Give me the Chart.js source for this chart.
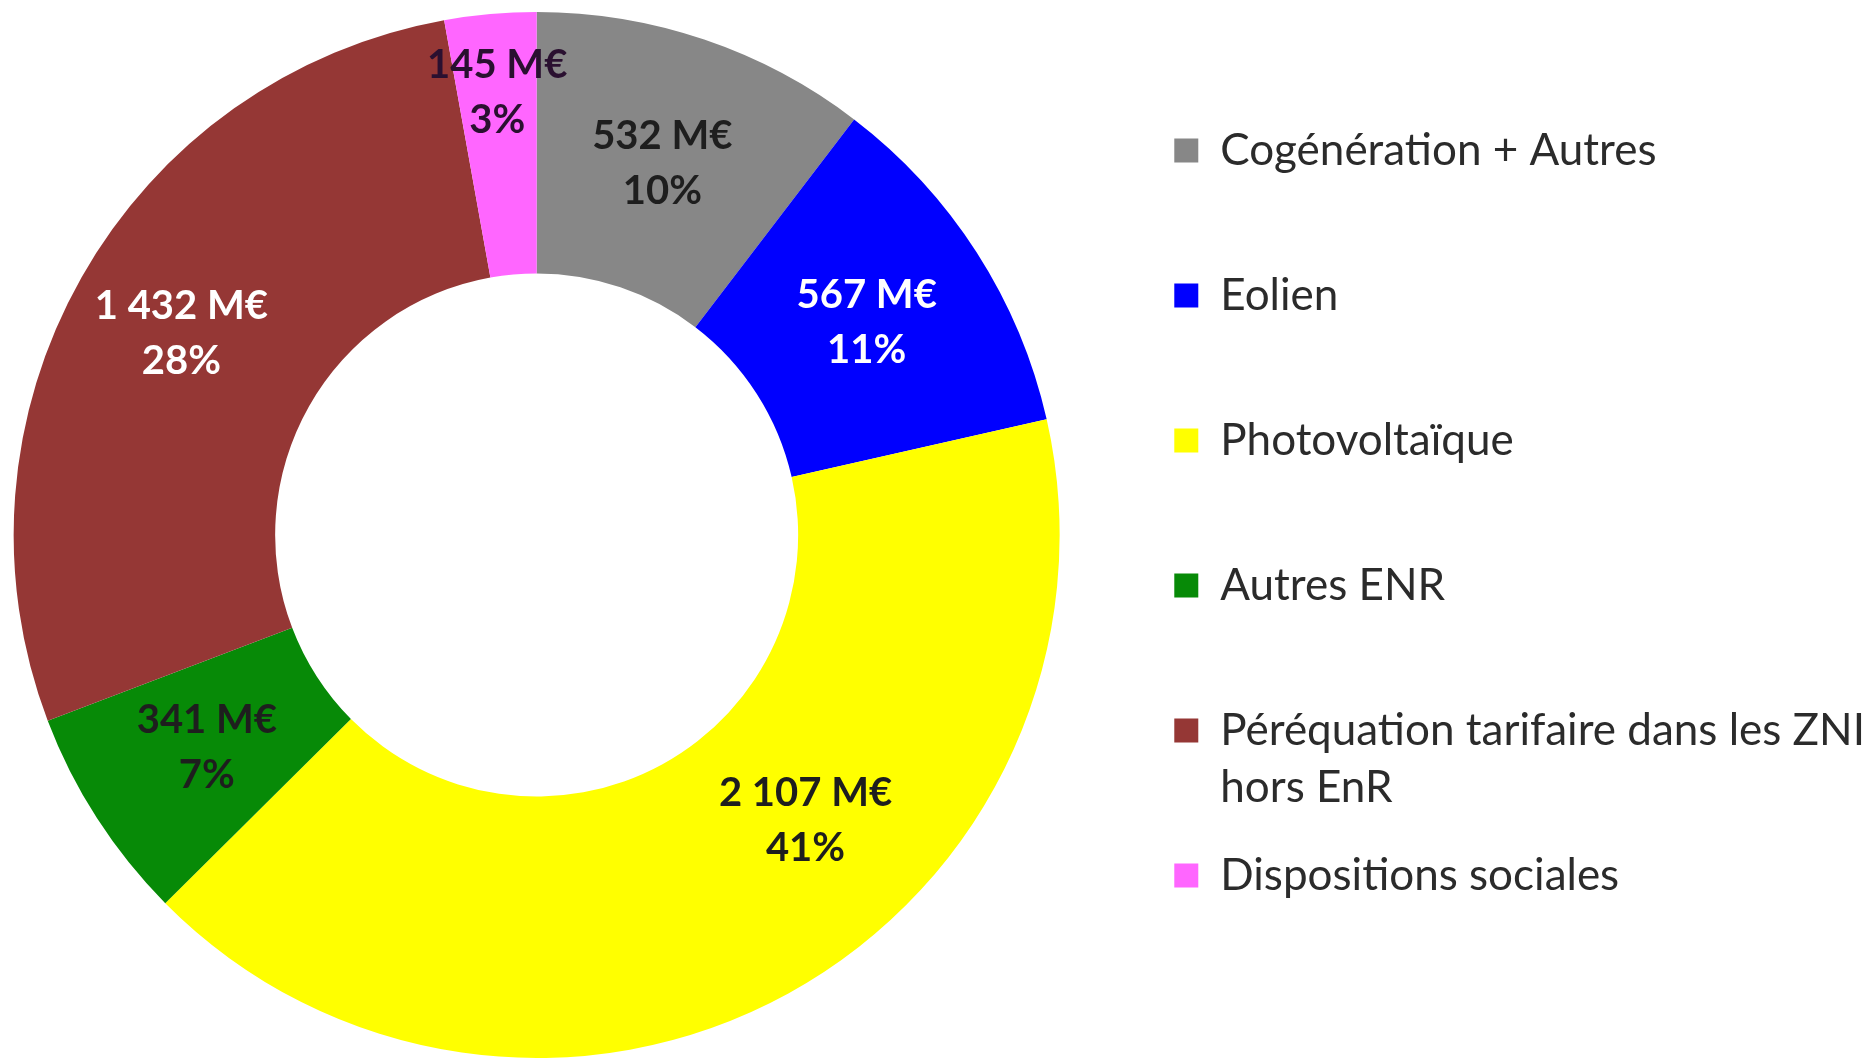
<!DOCTYPE html>
<html>
<head>
<meta charset="utf-8">
<script src="https://cdn.jsdelivr.net/npm/chart.js@4.4.1/dist/chart.umd.min.js"></script>
<style>
  html, body { margin: 0; padding: 0; background: #fff; }
  #wrap { width: 1875px; height: 1060px; position: relative; }
</style>
</head>
<body>
<div id="wrap"><canvas id="cspeChart"></canvas></div>
<script>
// Répartition des charges (M€)
const categories = ['Cogénération + Autres', 'Eolien', 'Photovoltaïque', 'Autres ENR', 'Péréquation tarifaire dans les ZNI', 'Dispositions sociales'];
const categoryExtraLines = ['', '', '', '', 'hors EnR', ''];
const amounts = [532, 567, 2107, 341, 1432, 145];
const sliceColors = ['#878787', '#0000ff', '#ffff00', '#078a07', '#953735', '#ff66ff'];
const labelColors = ['#1e1e1e', '#ffffff', '#1e1e1e', '#1e1e1e', '#ffffff', '#2a1030'];

function formatAmount(v) {
    return String(v).replace(/\B(?=(\d{3})+(?!\d))/g, ' ') + ' M€';
}

// valeurs + pourcentages dans chaque part
const sliceLabels = {
    id: 'sliceLabels',
    afterDatasetsDraw(chart, args, opts) {
        const ctx = chart.ctx;
        const meta = chart.getDatasetMeta(0);
        const values = chart.data.datasets[0].data;
        const total = values.reduce((a, b) => a + b, 0);
        ctx.save();
        ctx.font = opts.font;
        ctx.textAlign = 'center';
        ctx.textBaseline = 'middle';
        meta.data.forEach((arc, i) => {
            const p = arc.getProps(['x', 'y', 'startAngle', 'endAngle', 'innerRadius', 'outerRadius'], true);
            const tw = (opts.tweaks && opts.tweaks[i]) || {};
            const ang = (p.startAngle + p.endAngle) / 2 + (tw.angle || 0) * Math.PI / 180;
            const r = (p.innerRadius + p.outerRadius) / 2 + (tw.radius || 0);
            const cx = p.x + Math.cos(ang) * r;
            const cy = p.y + Math.sin(ang) * r;
            ctx.fillStyle = labelColors[i];
            ctx.fillText(formatAmount(values[i]), cx, cy - opts.lineGap / 2);
            ctx.fillText(Math.round(values[i] / total * 100) + '%', cx, cy + opts.lineGap / 2);
        });
        ctx.restore();
    }
};

// deuxième ligne de légende (ex: "hors EnR")
const legendExtraLines = {
    id: 'legendExtraLines',
    afterDraw(chart, args, opts) {
        const legend = chart.legend;
        if (!legend || !legend.legendHitBoxes) return;
        const ctx = chart.ctx;
        const lo = legend.options.labels;
        const f = Chart.helpers.toFont(lo.font);
        ctx.save();
        ctx.font = f.string;
        ctx.fillStyle = lo.color;
        ctx.textAlign = 'left';
        ctx.textBaseline = 'middle';
        legend.legendHitBoxes.forEach((hb, i) => {
            const extra = categoryExtraLines[i];
            if (!extra) return;
            ctx.fillText(extra, hb.left + lo.boxWidth + f.size / 2, hb.top + hb.height / 2 + opts.lineGap);
        });
        ctx.restore();
    }
};

const ctx = document.getElementById('cspeChart').getContext('2d');
const chart = new Chart(ctx, {
    type: 'doughnut',
    data: {
        labels: categories,
        datasets: [{
            data: amounts,
            backgroundColor: sliceColors,
            borderWidth: 0
        }]
    },
    options: {
        responsive: true,
        maintainAspectRatio: false,
        animation: false,
        events: [],
        cutout: '50%',
        layout: { padding: { top: 12, bottom: 2, left: 0, right: 0 } },
        plugins: {
            tooltip: { enabled: false },
            legend: {
                position: 'right',
                align: 'start',
                title: { display: true, text: '', padding: 0, font: { size: 13 } },
                labels: {
                    boxWidth: 24,
                    boxHeight: 24,
                    padding: 101,
                    color: '#2b2b2b',
                    font: { family: 'Lato', size: 44 }
                }
            },
            sliceLabels: {
                font: 'bold 40px Lato',
                lineGap: 55,
                tweaks: { 2: { angle: -14.5 }, 4: { radius: 16 }, 5: { radius: 52 } }
            },
            legendExtraLines: { lineGap: 57 }
        }
    },
    plugins: [sliceLabels, legendExtraLines]
});
</script>
</body>
</html>
